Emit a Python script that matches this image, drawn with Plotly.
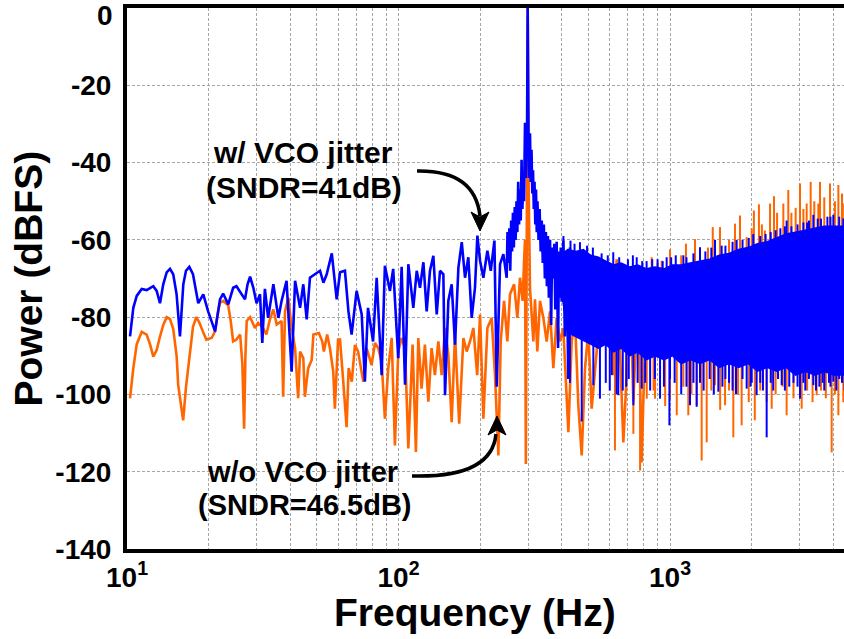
import numpy as np
import plotly.graph_objects as go

# ---------------- data ----------------
# "w/ VCO jitter" spectrum, low/mid frequency part (Hz, dBFS)
BLUE_LINE_F = [10.26, 10.55, 10.86, 11.33, 11.81, 12.15, 12.5, 12.86, 13.23, 13.6, 14.0, 14.4, 14.8, 15.23,
               15.67, 16.12, 16.49, 16.96, 17.5, 18.3, 19.1, 19.9, 21.1, 22.0, 22.6, 23.6, 24.6, 25.3, 26.4,
               27.2, 27.8, 28.4, 29.2, 30.0, 30.9, 31.5, 32.2, 33.1, 34.6, 36.1, 37.1, 38.7, 40.4, 41.6, 43.4,
               44.6, 45.9, 47.2, 49.2, 51.4, 52.9, 54.4, 56.8, 59.2, 60.9, 63.5, 65.4, 67.2, 70.1, 73.2, 75.2,
               77.2, 80.6, 83.1, 86.7, 89.1, 93.0, 95.6, 99.8, 102.7, 105.7, 108.7,
               113.4, 116.7, 120.0, 123.5, 127.0, 130.6, 134.4, 138.3, 142.2, 146.3, 148.4, 152.6, 157.0,
               161.5, 166.2, 171.0, 175.8, 180.8, 186.0, 191.3, 195.2, 199.7, 205.4, 212.5, 218.7, 225.6,
               230.0, 236.6, 243.4, 250.3, 252, 254, 256, 258, 260, 262, 264, 266, 268, 270, 272, 274, 276,
               278, 280, 282, 284, 286, 288, 290, 292.4, 294, 295.5, 297.5, 299.1, 300.5, 302, 303.5, 305,
               307, 309, 311, 313, 315, 317, 319, 321, 323, 325, 328, 331, 334, 337, 340, 343, 346, 349, 352,
               355, 358, 361.5, 365, 368, 371.8, 375, 378, 382.4, 387, 390, 393.4, 396, 399, 404.7, 410, 416,
               422, 428]
BLUE_LINE_DB = [-85, -77.6, -74.5, -72.7, -73.0, -72.4, -72, -73.2, -76.4, -71.5, -68.4, -67.5, -68.9, -74.1,
                -85, -71.5, -68, -67, -68.9, -76.4, -74.1, -78.5, -83.7, -75.4, -73.9, -76.7, -72.4, -72, -74.1,
                -75.4, -71.5, -69.5, -72.4, -76.4, -74.1, -86.7, -72.7, -80.2, -71.5, -80.2, -75.8, -70.6, -94.1,
                -70.6, -77.6, -71.5, -80.6, -69.8, -68.9, -68, -71.1, -68.9, -63.5, -75.4, -68.4, -68, -78.5,
                -84.5, -73.2, -79.3, -96.7, -77.6, -86.3, -69.8, -95, -66.7, -73.2, -67.5, -90.6, -67, -97.5,
                -66.3,
                -77.6, -68.0, -72.4, -65.8, -78.5, -68.0, -64.1, -79.3, -68.0, -68.9, -100.2, -75.8, -71.5,
                -87.1, -67.2, -60.6, -69.8, -64.5, -80.2, -72.4, -58.9, -65.4, -69.8, -62.8, -68.0, -60.2,
                -98.0, -66.3, -63.7, -69.8, -58, -66, -57, -68, -55, -63, -53, -62, -51.5, -60, -50, -58, -45,
                -56, -47, -55, -39.3, -52, -44, -50, -29.7, -44, -36, -33, 0, -34, -44, -36, -32.4,
                -45, -36.7, -48, -42, -52, -45, -56, -47, -58, -50, -60, -52, -63, -55, -66, -56, -70, -58, -72,
                -59, -75, -60, -82, -62, -70, -61, -78, -60.5, -88, -63, -75, -62, -76, -60.2, -85, -63,
                -96, -62]

# "w/o VCO jitter" spectrum, low/mid frequency part (Hz, dBFS)
ORANGE_LINE_F = [10.26, 10.55, 10.86, 11.33, 11.81, 12.15, 12.5, 12.86, 13.23, 13.6, 14.0, 14.4, 14.8, 15.23,
                 15.44, 15.9, 16.1, 16.5, 16.96, 17.5, 18.0, 18.5, 19.1, 19.6, 20.5, 21.1, 21.6, 22.0, 22.6,
                 23.6, 24.1, 24.6, 25.3, 26.1, 26.6, 27.0, 27.3, 27.6, 28.4, 29.6, 30.4, 31.7, 32.6, 33.6,
                 34.6, 35.6, 37.1, 37.6, 38.2, 39.3, 40.4, 41.6, 42.7, 43.4, 44.6, 45.2, 46.5, 47.9, 48.6,
                 50.9, 52.4, 53.1, 54.6, 55.9, 57.5, 58.3, 59.9, 60.9, 62.6, 64.4, 65.5, 67.3, 69.1, 71.0,
                 74.2, 76.3, 79.6, 81.9, 84.2, 86.7, 89.1, 91.7, 94.4, 97.0, 99.8, 102.7, 105.7, 108.7,
                 112.7, 115.9, 118.3, 121.6, 125.1, 128.8, 132.4, 136.2, 140.2, 144.2, 148.4, 152.6, 157.0,
                 161.5, 167.3, 173.4, 178.3, 183.4, 188.7, 194.9, 199.7, 205.4, 212.5, 220.4, 226.7, 230.0,
                 233.3, 237.9, 244.8, 251.7, 257.5, 266.5, 274.0, 280.2, 286.6, 289.9, 292.4, 294.5, 297,
                 299.1, 301, 303, 305, 313.8, 318.2, 324.6, 332.1, 341.6, 351.4, 361.5, 371.8, 382.4, 393.4,
                 404.7, 416.3, 422.3, 434.4, 446.8, 459.6, 472.9, 486.4, 500.2, 514.6, 536.9, 560.0, 576.2,
                 592.8, 618.5, 636.2, 654.5, 673.2, 692.6, 712.3, 732.8, 764.5, 786, 809, 832]
ORANGE_LINE_DB = [-101, -93.2, -87, -83.8, -84.5, -87, -90.2, -88.5, -85, -82, -80, -80.5, -83, -90,
                  -97.6, -104, -106.7, -98, -90, -82.5, -80, -81.5, -84, -85.8, -85.4, -83.7, -79, -76.3, -75.8,
                  -77, -81, -86.3, -85.8, -84.5, -92, -108.9, -90, -81, -80, -82.8, -81.5, -82.8, -84.5, -80.6,
                  -78, -81.9, -81, -100.6, -78.5, -75, -82.8, -88, -101, -88.9, -90.6, -100.6, -93.2, -91.1,
                  -84.5, -84.1, -86.3, -88.9, -84.5, -88, -94.1, -103.7, -85.8, -85.8, -96.7, -108.5, -93.2,
                  -96.7, -87.2, -88.9, -96.7, -88, -92.4, -86.7, -88, -91.5, -106.3, -93.2, -85.4, -113.2,
                  -88.9, -85.4, -88, -114,
                  -87.1, -114.9, -85.4, -98.5, -87.1, -101.9, -88.0, -95.0, -86.3, -95.0, -82.8, -89.7, -107.2,
                  -84.5, -107.6, -85.4, -88.9, -86.3, -82.8, -95.0, -79.3, -106.3, -82.8, -80.2, -95.0, -105.4,
                  -115.8, -86.3, -75.8, -86.3, -74.1, -71.5, -80.2, -69.8, -75.8, -66, -60, -118, -45,
                  0, -42, -58, -72.4, -86.3, -75.4, -88.9, -75.8, -80.2, -86.3, -78.5, -93.2, -80.2, -86.3,
                  -82.8, -101.9, -109.8, -86.3, -80.2, -102.8, -115.8, -93.2, -83.7, -103.7, -88.9, -65.9, -86.3,
                  -75.8, -95.0, -65.0, -88.9, -112.4, -95.0, -69.8, -101.9, -71.5, -117.6, -86.3, -68.9]

# "w/ VCO jitter" dense noise floor: upper and lower envelope of the solid band
BAND_F = [395, 420, 450, 480, 510, 545, 580, 620, 660, 710, 760, 820, 880, 950, 1020, 1100, 1190, 1290,
          1400, 1520, 1650, 1790, 1940, 2100, 2280, 2470, 2680, 2900, 3150, 3420, 3700, 4000, 4450]
BAND_TOP = [-64, -62.5, -63, -62.5, -64, -64.5, -65.5, -66.5, -66, -67, -66.5, -67.5, -67, -67.5, -66.5,
            -66.5, -66, -65.5, -65, -64, -63.5, -62.5, -62, -61, -60.5, -59.5, -58.5, -58, -57.5, -57,
            -56.5, -56.5, -56.5]
BAND_BOT = [-72, -84, -85, -86, -87, -88, -87, -89, -88, -90, -89, -91, -90, -91, -90, -92, -91, -92, -91,
            -93, -92, -93, -92, -94, -93, -94, -93, -95, -94, -95, -94, -95, -95]

# spikes sticking out of the noise band (Hz, end value in dBFS)
BLUE_UP_F = [430, 466, 520, 590, 618, 700, 754, 820, 900, 972, 1050, 1150, 1290, 1350, 1465, 1600, 1700,
             1850, 2026, 2150, 2350, 2550, 2689, 2800, 3100, 3250, 3373, 3600, 3800, 3996, 4200,
             405, 445, 495, 560, 650, 730, 790, 860, 940, 1010, 1120, 1220, 1420, 1550, 1760, 1950, 2250,
             2450, 2650, 2950, 3200, 3500, 3900, 4350]
BLUE_UP_DB = [-60.2, -60.6, -62, -64, -63.2, -65, -64.5, -65.5, -65, -64.5, -64, -64.5, -61.9, -63, -60,
              -61.5, -60.5, -60, -58.5, -59, -58, -57, -55, -56.5, -55.5, -55, -53.5, -54.5, -54, -53.5, -54,
              -59, -61, -61.5, -63.5, -64.5, -64, -65.5, -65, -65.5, -64.5, -64, -63.5, -62, -61.5, -60,
              -59.5, -58.5, -57.5, -56.5, -56, -55.5, -54.5, -54, -54.5]
BLUE_DN_F = [428, 473, 522, 552, 580, 610, 636, 645, 670, 705, 733, 760, 787, 845, 880, 919, 950, 995,
             1040, 1100, 1185, 1220, 1254, 1330, 1400, 1507, 1560, 1650, 1750, 1850, 1916, 1980, 2085,
             2150, 2270, 2400, 2500, 2579, 2750, 2850, 3012, 3150, 3250, 3373, 3550, 3700, 3850, 3996,
             4100, 4300,
             600, 690, 810, 1000, 1150, 1290, 1450, 1600, 1700, 2000, 2200, 2350, 2650, 2950, 3100, 3450,
             3650, 3900, 4200, 4400]
BLUE_DN_DB = [-97, -107, -97.6, -101.1, -97, -95, -100, -100.2, -99, -96, -102.8, -97, -98.5, -99, -96,
              -101.1, -98, -108, -97, -100, -102.8, -97, -103.2, -99, -96, -99.3, -98, -97, -100, -96,
              -98.5, -98, -100.2, -97, -111.1, -99, -96, -97.6, -98, -97, -101.1, -99, -96, -97.6, -98,
              -99, -97, -96.7, -99, -97,
              -99, -98, -97, -96, -98, -97, -100, -96, -99, -97, -99, -97, -99, -98, -97, -99, -97, -98,
              -96, -99]
ORANGE_UP_F = [856, 900, 932, 1000, 1100, 1145, 1236, 1290, 1380, 1437, 1528, 1650, 1735, 1811, 1916,
               2000, 2037, 2126, 2180, 2236, 2336, 2416, 2480, 2615, 2727, 2800, 2903, 3012, 3100, 3187,
               3297, 3400, 3518, 3569, 3700, 3884, 4050, 4170, 4300, 4380]
ORANGE_UP_DB = [-64.5, -66, -65.4, -62.4, -64, -61, -59.8, -63.2, -62, -56.7, -56.7, -60, -55.8, -53.7,
                -59.3, -57, -52.4, -50.8, -56, -57.6, -50.6, -48.7, -53, -50.6, -47.1, -53, -51.7, -45.4,
                -52, -50.6, -45, -50, -50.6, -45, -49, -45.4, -50, -45.8, -48, -50.6]
ORANGE_DN_F = [627, 733, 776, 821, 870, 881, 960, 1000, 1059, 1120, 1168, 1200, 1254, 1308, 1365, 1420,
               1465, 1530, 1595, 1650, 1711, 1780, 1836, 1950, 2053, 2150, 2270, 2369, 2450, 2600, 2689,
               2850, 3055, 3200, 3350, 3469, 3600, 3750, 3940, 4050, 4170, 4350]
ORANGE_DN_DB = [-114.5, -110.2, -119.7, -101.1, -99, -101.1, -103, -101.1, -105.4, -98, -105.4, -100,
                -102.8, -117.1, -112.4, -99, -97.6, -104, -102.8, -99, -111.1, -100, -108, -102, -106.7,
                -99, -101.9, -103.7, -100, -98, -105.4, -101, -103.7, -99, -102, -100.2, -99, -101, -115,
                -100, -105.4, -102]

X_TICKS = [10, 100, 1000]
X_TICK_TEXT = ["10<sup>1</sup>", "10<sup>2</sup>", "10<sup>3</sup>"]
X_MINOR = [20, 30, 40, 50, 60, 70, 80, 90, 200, 300, 400, 500, 600, 700, 800, 900, 2000, 3000, 4000]
Y_TICKS = [-140, -120, -100, -80, -60, -40, -20, 0]

# ---------------- style ----------------
BLUE = "rgb(0,0,255)"
ORANGE = "rgb(255,102,0)"
GRID = "#a6a6a6"
FONT = "Liberation Sans, Arial, Helvetica, sans-serif"


def spikes(freqs, ends, env, offset):
    xs, ys = [], []
    for f, e in zip(freqs, ends):
        base = float(np.interp(f, BAND_F, env)) + offset
        xs += [f, f, None]
        ys += [base, e, None]
    return xs, ys


fig = go.Figure()

# orange (w/o VCO jitter) first, blue on top
fig.add_trace(go.Scatter(x=ORANGE_LINE_F, y=ORANGE_LINE_DB, mode="lines",
                         line=dict(color=ORANGE, width=2.6), hoverinfo="skip"))
ox, oy = spikes(ORANGE_UP_F, ORANGE_UP_DB, BAND_TOP, -4)
fig.add_trace(go.Scatter(x=ox, y=oy, mode="lines", line=dict(color=ORANGE, width=2), hoverinfo="skip"))
ox, oy = spikes(ORANGE_DN_F, ORANGE_DN_DB, BAND_BOT, 4)
fig.add_trace(go.Scatter(x=ox, y=oy, mode="lines", line=dict(color=ORANGE, width=2), hoverinfo="skip"))

fig.add_trace(go.Scatter(x=BAND_F + BAND_F[::-1], y=BAND_TOP + BAND_BOT[::-1], mode="lines",
                         fill="toself", fillcolor=BLUE, line=dict(color=BLUE, width=1.5), hoverinfo="skip"))
fig.add_trace(go.Scatter(x=BLUE_LINE_F, y=BLUE_LINE_DB, mode="lines",
                         line=dict(color=BLUE, width=2.6), hoverinfo="skip"))
bx, by = spikes(BLUE_UP_F, BLUE_UP_DB, BAND_TOP, -4)
fig.add_trace(go.Scatter(x=bx, y=by, mode="lines", line=dict(color=BLUE, width=2), hoverinfo="skip"))
bx, by = spikes(BLUE_DN_F, BLUE_DN_DB, BAND_BOT, 4)
fig.add_trace(go.Scatter(x=bx, y=by, mode="lines", line=dict(color=BLUE, width=2), hoverinfo="skip"))

fig.update_layout(
    width=844, height=639,
    margin=dict(l=127, r=0, t=8, b=90),
    paper_bgcolor="white", plot_bgcolor="white",
    showlegend=False,
    font=dict(family=FONT, color="black"),
    xaxis=dict(type="log", range=[1, 3.6409], automargin=False,
               showline=True, linecolor="black", linewidth=4, mirror=True,
               showgrid=True, gridcolor=GRID, gridwidth=1, griddash="3px,2px",
               tickvals=X_TICKS, ticktext=X_TICK_TEXT, ticks="",
               tickfont=dict(size=28, family=FONT, weight="bold", color="black"),
               zeroline=False,
               minor=dict(tickvals=X_MINOR, showgrid=True, gridcolor=GRID, gridwidth=1,
                          griddash="3px,2px", ticks="")),
    yaxis=dict(range=[-140, 0], automargin=False,
               showline=True, linecolor="black", linewidth=4, mirror=False,
               showgrid=True, gridcolor=GRID, gridwidth=1, griddash="3px,2px",
               tickvals=Y_TICKS, ticktext=[str(v) if v != 0 else "" for v in Y_TICKS], ticks="",
               ticklabelstandoff=6,
               tickfont=dict(size=28, family=FONT, weight="bold", color="black"),
               zeroline=False),
)

# white boxes behind the two labels
for x0, x1, y0, y1 in [(0.0921, 0.4017, 0.6414, 0.7597), (0.0879, 0.4086, 0.0462, 0.1793)]:
    fig.add_shape(type="rect", xref="paper", yref="paper", x0=x0, x1=x1, y0=y0, y1=y1,
                  fillcolor="white", line=dict(width=0), layer="between")

# curved arrows
fig.add_shape(type="path", xref="paper", yref="paper",
              path="M 0.4045 0.6987 Q 0.4854 0.7006 0.4923 0.6155",
              line=dict(color="black", width=3.5))
fig.add_shape(type="path", xref="paper", yref="paper",
              path="M 0.4923 0.5878 L 0.4798 0.6229 L 0.4923 0.6137 L 0.5049 0.6229 Z",
              fillcolor="black", line=dict(color="black", width=1))
fig.add_shape(type="path", xref="paper", yref="paper",
              path="M 0.3975 0.1349 Q 0.5091 0.1312 0.5146 0.2126",
              line=dict(color="black", width=3.5))
fig.add_shape(type="path", xref="paper", yref="paper",
              path="M 0.5160 0.2458 L 0.5035 0.2107 L 0.5160 0.2200 L 0.5286 0.2107 Z",
              fillcolor="black", line=dict(color="black", width=1))


def label(text, x, y, size, **kw):
    fig.add_annotation(text=text, x=x, y=y, xref="paper", yref="paper", showarrow=False,
                       xanchor=kw.pop("xanchor", "center"), yanchor="middle",
                       font=dict(size=size, family=FONT, weight="bold", color="black"), **kw)


label("w/ VCO jitter", 0.2455, 0.7338, 30)
label("(SNDR=41dB)", 0.2462, 0.6691, 30)
label("w/o VCO jitter", 0.2448, 0.1423, 29)
label("(SNDR=46.5dB)", 0.2483, 0.0813, 29)
label("0", -0.0167, 0.987, 28, xanchor="right")
label("Frequency (Hz)", 0.486, -0.1165, 39)
label("Power (dBFS)", -0.1367, 0.5, 39, textangle=-90)

fig.write_html("out.html",
               config={"displayModeBar": False},
               post_script="document.body.style.margin='0px';document.body.style.overflow='hidden';")
